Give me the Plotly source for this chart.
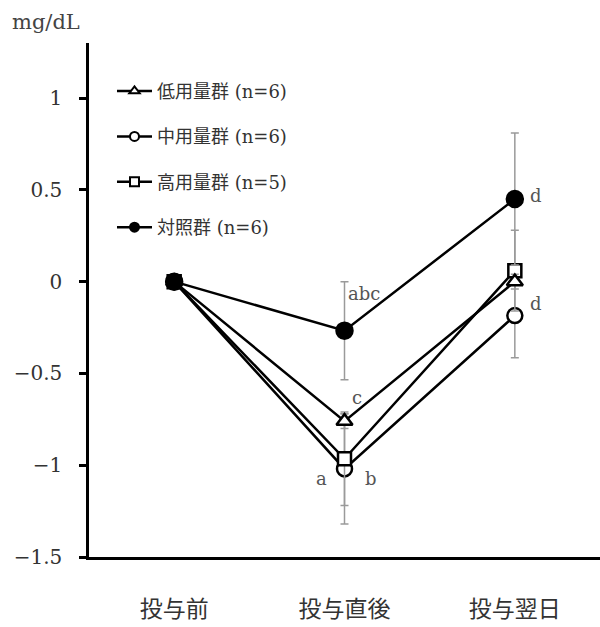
import plotly.graph_objects as go

# Time points and group names
timepoints = ["投与前", "投与直後", "投与翌日"]
groups = ["低用量群 (n=6)", "中用量群 (n=6)", "高用量群 (n=5)", "対照群 (n=6)"]

# Mean change from baseline (mg/dL)
low_mean = [0.0, -0.76, 0.0]
mid_mean = [0.0, -1.02, -0.185]
high_mean = [0.0, -0.965, 0.06]
ctrl_mean = [0.0, -0.267, 0.45]

# Standard deviations
low_sd = [0.0, 0.04, 0.04]
mid_sd = [0.0, 0.30, 0.23]
high_sd = [0.0, 0.255, 0.22]
ctrl_sd = [0.0, 0.267, 0.36]

# Significance letters: (text, time index, y value, x shift in px)
sig_labels = ["abc", "c", "a", "b", "d", "d"]
sig_x = [1, 1, 1, 1, 2, 2]
sig_y = [-0.065, -0.63, -1.07, -1.07, 0.47, -0.12]
sig_dx = [19, 12, -23, 26, 21, 21]

means = [low_mean, mid_mean, high_mean, ctrl_mean]
sds = [low_sd, mid_sd, high_sd, ctrl_sd]
symbols = ["triangle-up", "circle", "square", "circle"]
fills = ["white", "white", "white", "black"]
sizes = [14, 15, 13, 16]
# drawing order: middle, high, low, control (control on top)
draw_order = [1, 2, 0, 3]

serif = "DejaVu Serif, Noto Sans CJK JP, serif"

fig = go.Figure()
for i in draw_order:
    fig.add_trace(go.Scatter(
        x=timepoints, y=means[i], name=groups[i], showlegend=False,
        mode="lines+markers",
        line=dict(color="black", width=2.5),
        marker=dict(symbol=symbols[i], size=sizes[i], color=fills[i],
                    line=dict(color="black", width=2.5)),
        error_y=dict(type="data", array=sds[i], visible=True,
                     color="#9a9a9a", thickness=1.5, width=4),
    ))

# legend entries with smaller symbols
for i, name in enumerate(groups):
    fig.add_trace(go.Scatter(
        x=[None], y=[None], name=name, legendgroup=name,
        mode="lines+markers",
        line=dict(color="black", width=2.5),
        marker=dict(symbol=symbols[i], size=9, color=fills[i],
                    line=dict(color="black", width=2)),
    ))

for t, xi, yv, dx in zip(sig_labels, sig_x, sig_y, sig_dx):
    fig.add_annotation(x=xi, y=yv, text=t, showarrow=False, xshift=dx,
                       font=dict(family=serif, size=18, color="#555555"))

fig.add_annotation(xref="paper", yref="paper", x=-0.155, y=1.041,
                   xanchor="left", yanchor="middle", text="mg/dL",
                   showarrow=False,
                   font=dict(family=serif, size=21, color="#444444"))

fig.update_layout(
    width=600, height=627,
    margin=dict(l=89, r=0, t=43, b=70),
    paper_bgcolor="white", plot_bgcolor="white",
    showlegend=True,
    legend=dict(x=0.045, y=0.942, xanchor="left", yanchor="top",
                bgcolor="rgba(255,255,255,0)",
                font=dict(family=serif, size=18, color="#333333"),
                tracegroupgap=19, itemwidth=35),
)
fig.update_xaxes(
    type="category", range=[-0.5, 2.5],
    showline=True, linecolor="black", linewidth=2.5,
    showgrid=False, ticks="", ticklabelstandoff=30,
    tickfont=dict(family="Noto Sans CJK JP", size=23, color="#333333"),
)
fig.update_yaxes(
    range=[-1.5, 1.3], tickvals=[-1.5, -1, -0.5, 0, 0.5, 1],
    ticktext=["−1.5", "−1", "−0.5", "0", "0.5", "1"],
    showline=True, linecolor="black", linewidth=2.5,
    showgrid=False, zeroline=False,
    ticks="outside", ticklen=7, tickwidth=2.5, tickcolor="black",
    ticklabelstandoff=13,
    tickfont=dict(family=serif, size=20, color="#333333"),
)

fig.write_html("out.html")
